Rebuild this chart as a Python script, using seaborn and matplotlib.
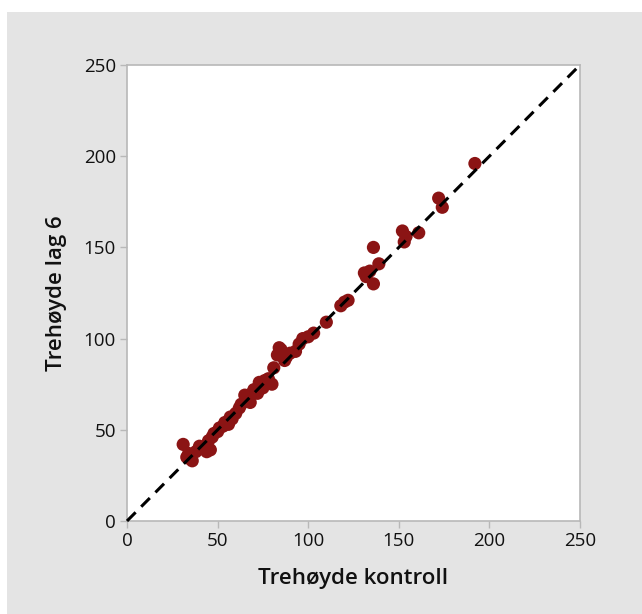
import matplotlib
matplotlib.use("Agg")
import matplotlib.pyplot as plt
import seaborn as sns
import pandas as pd
from matplotlib.patches import Rectangle

# Tree heights: control vs. layer 6
kontroll = [31, 33, 34, 35, 36, 38, 40, 42, 44, 46, 45, 47, 48, 50, 51, 53, 54, 56, 57, 58,
            60, 62, 63, 65, 68, 69, 70, 72, 73, 75, 76, 78, 80, 81, 83, 84, 85, 87, 88, 90,
            93, 95, 97, 100, 103, 110, 118, 120, 122, 131, 132, 134, 136, 136, 139,
            152, 153, 154, 161, 172, 174, 192]
lag6 = [42, 35, 37, 34, 33, 38, 41, 40, 38, 39, 44, 46, 48, 49, 51, 52, 54, 53, 57, 56,
        59, 62, 64, 69, 65, 70, 72, 70, 76, 73, 77, 78, 75, 84, 91, 95, 94, 88, 90, 92,
        93, 97, 100, 101, 103, 109, 118, 120, 121, 136, 134, 137, 150, 130, 141,
        159, 153, 156, 158, 177, 172, 196]

df = pd.DataFrame({"Trehøyde kontroll": kontroll, "Trehøyde lag 6": lag6})

sns.set_style("white")
plt.rcParams["font.family"] = ["Open Sans", "DejaVu Sans"]

fig = plt.figure(figsize=(6.42, 6.14), dpi=100, facecolor="white")
fig.patches.append(Rectangle((7 / 642, 0), 1, 1 - 12 / 614, transform=fig.transFigure,
                             facecolor="#e4e4e4", edgecolor="none", zorder=-10))
ax = fig.add_axes([127 / 642, 1 - 521 / 614, 453 / 642, 456 / 614])
ax.set_facecolor("white")

ax.plot([0, 250], [0, 250], ls=(0, (4, 2.6)), color="black", lw=2.2, zorder=3, clip_on=False)
sns.scatterplot(data=df, x="Trehøyde kontroll", y="Trehøyde lag 6", ax=ax,
                color="#8b1414", s=90, edgecolor="none", zorder=2)

ax.set_xlim(0, 250)
ax.set_ylim(0, 250)
ticks = [0, 50, 100, 150, 200, 250]
ax.set_xticks(ticks)
ax.set_yticks(ticks)
for sp in ax.spines.values():
    sp.set_color("#b8b8b8")
    sp.set_linewidth(1.2)
ax.tick_params(axis="both", direction="out", length=5, width=1, color="#b8b8b8",
               labelsize=13.5, labelcolor="#111111", pad=3,
               bottom=True, left=True)
ax.set_xlabel("Trehøyde kontroll", fontsize=16, color="#111111", labelpad=13,
              fontweight="semibold")
ax.set_ylabel("Trehøyde lag 6", fontsize=16, color="#111111", labelpad=12,
              fontweight="semibold")

fig.savefig("out.png", dpi=100, facecolor=fig.get_facecolor())
